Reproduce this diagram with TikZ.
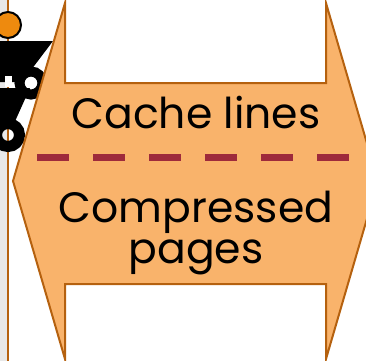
\documentclass[tikz,border=0pt]{standalone}
\usepackage{fontspec}
\setmainfont{Poppins}
\definecolor{pagefill}{HTML}{F9B36B}
\definecolor{rim}{HTML}{B5610F}
\definecolor{cut}{HTML}{9E2A3B}
\definecolor{iconorange}{HTML}{EE8A0E}
\definecolor{strip}{HTML}{E8E8E8}

\begin{document}
\begin{tikzpicture}[x=1bp, y=-1bp,
  arrowbody/.style={draw=rim, fill=pagefill, line width=2bp, line join=miter},
  cutline/.style={draw=cut, line width=7bp, dash pattern=on 32bp off 24bp},
  wheel/.style={draw=black, line width=10bp},
  lbl/.style={font=\fontsize{42.5bp}{41bp}\selectfont, align=center,
              anchor=base, inner sep=0pt}]
\useasboundingbox (0,0) rectangle (366,361);
\clip (0,0) rectangle (366,361);
% margin strip and rule
\fill[strip] (0,0) rectangle (7,361);
\draw[rim, line width=2bp] (8,0) -- (8,361);
% icon at the edge
\fill[black] (0,41) -- (53,41) -- (22,82) -- (0,82) -- cycle;
\fill[black] (0,88) -- (30,88) -- (12,128) -- (0,128) -- cycle;
\fill[white] (5,76) rectangle (12,87);
\draw[wheel] (31,83) circle (11.5);
\draw[wheel, line width=11bp] (8,135) circle (11.5);
\filldraw[fill=iconorange, draw=black, line width=2bp] (8,25) circle (13);
% double arrow body
\draw[arrowbody] (13,181) -- (65,3) -- (65,83) -- (326,83) -- (326,3)
  -- (378,181) -- (326,359) -- (326,284) -- (65,284) -- (65,359) -- cycle;
\node[lbl] (cache) at (196,128) {Cache lines};
\node[lbl] (pages) at (196,263) {Compressed\\pages};
\coordinate (cutL) at (37,157);
\coordinate (cutR) at (349,157);
\draw[cutline] (cutL) -- (cutR);
\end{tikzpicture}
\end{document}
